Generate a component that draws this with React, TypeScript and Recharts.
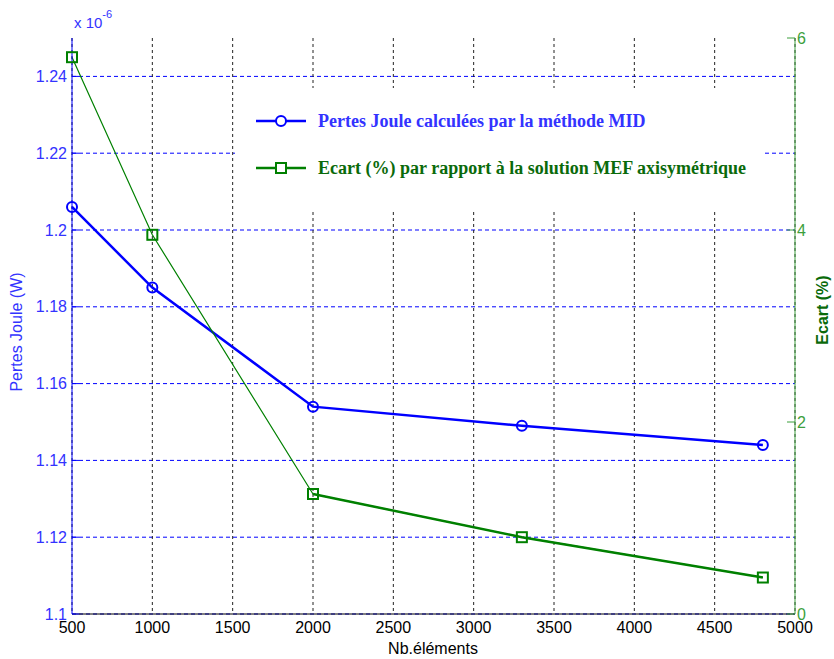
import React from 'react'
import { CartesianGrid, Legend, Line, LineChart, XAxis, YAxis } from 'recharts'

// Nb. éléments du maillage
const elements = [500, 1000, 2000, 3300, 4800]
// Pertes Joule (x 1e-6 W), méthode MID
const pertesJoule = [1.206, 1.185, 1.154, 1.149, 1.144]
// Ecart (%) vs solution MEF axisymétrique
const ecart = [5.8, 3.95, 1.25, 0.8, 0.38]

const xTicks = [500, 1000, 1500, 2000, 2500, 3000, 3500, 4000, 4500, 5000]
const leftTicks = [1.1, 1.12, 1.14, 1.16, 1.18, 1.2, 1.22, 1.24]
const rightTicks = [0, 2, 4, 6]

const BLUE = '#0000ff'
const BLUE_TXT = '#3333ff'
const GREEN = '#008000'
const GREEN_AXIS = '#3c9f3c'
const GREEN_TXT = '#0a6a0a'
const FONT = "'Liberation Sans', Arial, sans-serif"
const SERIF = "'Liberation Serif', 'Times New Roman', serif"

const data = elements.map((n, i) => ({
  n,
  pertes: pertesJoule[i],
  ecart: ecart[i],
  // le tracé vert est plus épais à partir de 2000 éléments
  ecartEpais: n >= 2000 ? ecart[i] : null,
}))

const CircleDot = (props: any) => {
  const { cx, cy, index } = props
  if (cx == null || cy == null) return <g key={index} />
  return <circle key={index} cx={cx} cy={cy} r={5} fill="none" stroke={BLUE} strokeWidth={2} />
}

const SquareDot = (props: any) => {
  const { cx, cy, index } = props
  if (cx == null || cy == null) return <g key={index} />
  return <rect key={index} x={cx - 5} y={cy - 5} width={10} height={10} fill="none" stroke={GREEN} strokeWidth={2} />
}

const LeftTick = (props: any) => {
  const { x, y, payload } = props
  const axisX = x + 5
  return (
    <g>
      <line x1={axisX} x2={axisX + 7} y1={y} y2={y} stroke={BLUE} />
      <text x={x} y={y} dy="0.35em" textAnchor="end" fill={BLUE_TXT} fontSize={16} fontFamily={FONT}>
        {payload.value === 1.2 ? '1.2' : payload.value === 1.1 ? '1.1' : payload.value.toFixed(2)}
      </text>
    </g>
  )
}

const RightTick = (props: any) => {
  const { x, y, payload } = props
  const axisX = x - 2
  return (
    <g>
      <line x1={axisX - 8} x2={axisX} y1={y} y2={y} stroke={GREEN_AXIS} />
      <text x={x} y={y} dy="0.35em" textAnchor="start" fill={GREEN_AXIS} fontSize={16} fontFamily={FONT}>
        {payload.value}
      </text>
    </g>
  )
}

const LeftLabel = () => (
  <g>
    <text x={22} y={332} transform="rotate(-90 22 332)" textAnchor="middle" fill={BLUE_TXT} fontSize={16} fontFamily={FONT}>
      Pertes Joule (W)
    </text>
    <text x={74} y={28} fill={BLUE_TXT} fontSize={15} fontFamily={FONT}>
      x 10
      <tspan dy={-10} fontSize={11}>-6</tspan>
    </text>
  </g>
)

const RightLabel = () => (
  <text x={828} y={310} transform="rotate(-90 828 310)" textAnchor="middle" fill={GREEN_TXT} fontSize={16} fontWeight="bold" fontFamily={FONT}>
    Ecart (%)
  </text>
)

const BottomLabel = () => (
  <text x={433} y={654} textAnchor="middle" fill="#000" fontSize={16} fontFamily={FONT}>
    Nb.éléments
  </text>
)

const legendItems = [
  { label: 'Pertes Joule calculées par la méthode MID', color: BLUE, text: BLUE_TXT, marker: 'circle' },
  { label: 'Ecart (%) par rapport à la solution MEF axisymétrique', color: GREEN, text: GREEN_TXT, marker: 'square' },
]

const renderLegend = () => (
  <div style={{ width: 527, height: 124, background: '#fff', position: 'relative' }}>
    {legendItems.map((it, i) => (
      <div key={it.label} style={{ position: 'absolute', left: 21, top: 22 + i * 47, display: 'flex', alignItems: 'center', height: 22 }}>
        <svg width={52} height={14}>
          <line x1={0} x2={50} y1={7} y2={7} stroke={it.color} strokeWidth={2.5} />
          {it.marker === 'circle' ? (
            <circle cx={25} cy={7} r={5} fill="#fff" stroke={it.color} strokeWidth={2} />
          ) : (
            <rect x={20} y={2} width={10} height={10} fill="#fff" stroke={it.color} strokeWidth={2} />
          )}
        </svg>
        <span style={{ marginLeft: 10, color: it.text, fontFamily: SERIF, fontWeight: 'bold', fontSize: 18, whiteSpace: 'nowrap' }}>
          {it.label}
        </span>
      </div>
    ))}
  </div>
)

export default function App() {
  return (
    <div style={{ position: 'absolute', left: 0, top: 0, width: 834, height: 659, background: '#fff' }}>
      <LineChart width={834} height={659} data={data} margin={{ top: 38, right: 0, bottom: 0, left: 0 }}>
        <CartesianGrid yAxisId="left" vertical={false} stroke={BLUE} strokeDasharray="4 3" horizontalValues={leftTicks} />
        <CartesianGrid yAxisId="left" horizontal={false} stroke="#222" strokeDasharray="3 3" verticalValues={xTicks} />
        <XAxis
          dataKey="n"
          type="number"
          domain={[500, 5000]}
          ticks={xTicks}
          height={45}
          stroke="#000"
          tickLine={false}
          tickSize={0}
          tickMargin={8}
          tick={{ fill: '#000', fontSize: 16, fontFamily: FONT }}
          label={<BottomLabel />}
        />
        <YAxis
          yAxisId="left"
          domain={[1.1, 1.25]}
          ticks={leftTicks}
          width={72}
          stroke={BLUE}
          tickLine={false}
          tickSize={0}
          tickMargin={5}
          tick={<LeftTick />}
          label={<LeftLabel />}
        />
        <YAxis
          yAxisId="right"
          orientation="right"
          domain={[0, 6]}
          ticks={rightTicks}
          width={39}
          stroke={GREEN_AXIS}
          tickLine={false}
          tickSize={0}
          tickMargin={2}
          tick={<RightTick />}
          label={<RightLabel />}
        />
        <Legend
          layout="horizontal"
          verticalAlign="middle"
          align="center"
          content={renderLegend}
          wrapperStyle={{ position: 'absolute', left: 235, top: 88, width: 527, height: 124 }}
        />
        <Line yAxisId="left" dataKey="pertes" stroke={BLUE} strokeWidth={2.5} dot={<CircleDot />} isAnimationActive={false} />
        <Line yAxisId="right" dataKey="ecart" stroke={GREEN} strokeWidth={1.2} dot={<SquareDot />} isAnimationActive={false} />
        <Line yAxisId="right" dataKey="ecartEpais" stroke={GREEN} strokeWidth={2.5} dot={false} connectNulls={false} isAnimationActive={false} />
      </LineChart>
    </div>
  )
}
